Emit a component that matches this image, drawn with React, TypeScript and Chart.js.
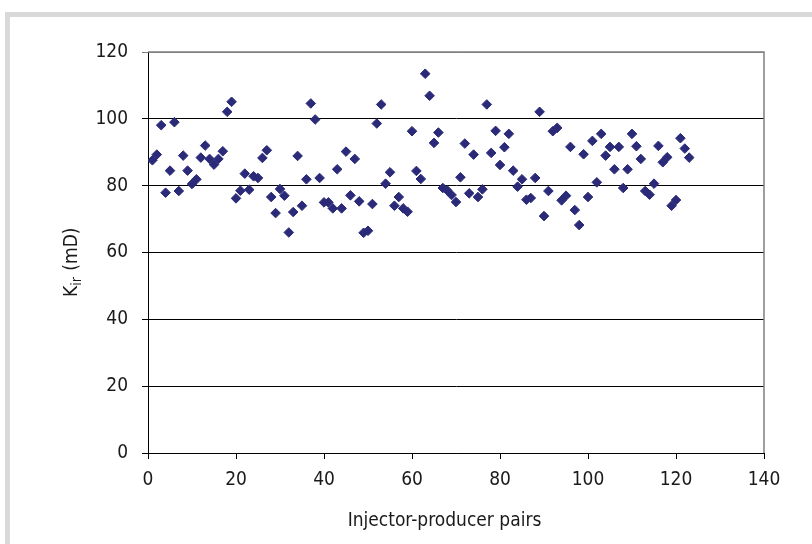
import { useEffect, useRef } from 'react';
import { Chart, registerables } from 'chart.js';

Chart.register(...registerables);

const pairIndex = [
  1, 2, 3, 4, 5, 6, 7, 8, 9, 10, 11, 12, 13, 14, 15, 16, 17, 18, 19, 20,
  21, 22, 23, 24, 25, 26, 27, 28, 29, 30, 31, 32, 33, 34, 35, 36, 37, 38, 39, 40,
  41, 42, 43, 44, 45, 46, 47, 48, 49, 50, 51, 52, 53, 54, 55, 56, 57, 58, 59, 60,
  61, 62, 63, 64, 65, 66, 67, 68, 69, 70, 71, 72, 73, 74, 75, 76, 77, 78, 79, 80,
  81, 82, 83, 84, 85, 86, 87, 88, 89, 90, 91, 92, 93, 94, 95, 96, 97, 98, 99, 100,
  101, 102, 103, 104, 105, 106, 107, 108, 109, 110, 111, 112, 113, 114, 115, 116, 117, 118, 119, 120,
  121, 122, 123,
];

const kirValues = [
  87.6, 89.3, 98.1, 77.9, 84.5, 99.0, 78.4, 89.0, 84.5, 80.5,
  81.9, 88.4, 92.0, 88.0, 86.3, 88.0, 90.3, 102.1, 105.1, 76.2,
  78.5, 83.6, 78.8, 82.8, 82.3, 88.3, 90.6, 76.6, 71.8, 79.0,
  77.0, 66.0, 72.1, 88.9, 74.0, 81.9, 104.6, 99.8, 82.3, 75.0,
  75.0, 73.2, 84.9, 73.2, 90.2, 77.1, 88.0, 75.3, 65.9, 66.5,
  74.5, 98.6, 104.3, 80.6, 84.0, 74.0, 76.6, 73.2, 72.2, 96.3,
  84.4, 82.0, 113.5, 106.9, 92.8, 95.9, 79.3, 78.6, 77.2, 75.1,
  82.5, 92.6, 77.7, 89.3, 76.6, 78.9, 104.3, 89.8, 96.4, 86.2,
  91.5, 95.5, 84.5, 79.7, 81.9, 75.8, 76.3, 82.3, 102.1, 70.9,
  78.4, 96.3, 97.3, 75.6, 77.0, 91.6, 72.7, 68.2, 89.4, 76.6,
  93.4, 81.0, 95.5, 89.0, 91.6, 84.9, 91.6, 79.3, 84.9, 95.5,
  91.8, 88.0, 78.4, 77.3, 80.6, 91.9, 87.0, 88.5, 74.0, 75.7,
  94.2, 91.1, 88.4,
];

const xTickValues = [0, 20, 40, 60, 80, 100, 120, 140];
const yTickValues = [0, 20, 40, 60, 80, 100, 120];

const xTitle = 'Injector-producer pairs';
const yTitleMain = 'K';
const yTitleSub = 'ir';
const yTitleRest = ' (mD)';

const FONT_FAMILY = "'Liberation Sans Narrow', 'DejaVu Sans Condensed', 'Arial Narrow', sans-serif";
const FONT_SIZE = 19;
const MARKER = '#2a2a78';

export default function App() {
  const canvasRef = useRef<HTMLCanvasElement | null>(null);

  useEffect(() => {
    const canvas = canvasRef.current;
    if (!canvas) return;

    const titlePlugin = {
      id: 'customTitles',
      afterDraw(chart: any) {
        const ctx = chart.ctx as CanvasRenderingContext2D;
        const area = chart.chartArea;
        ctx.save();
        ctx.strokeStyle = '#808080';
        ctx.lineWidth = 1.5;
        ctx.beginPath();
        ctx.moveTo(area.left, area.top);
        ctx.lineTo(area.right, area.top);
        ctx.lineTo(area.right, area.bottom);
        ctx.stroke();

        ctx.fillStyle = '#1a1a1a';
        ctx.font = `${FONT_SIZE}px ${FONT_FAMILY}`;
        ctx.textAlign = 'center';
        ctx.textBaseline = 'alphabetic';
        ctx.fillText(xTitle, 444.5, 526);

        ctx.translate(77, 297);
        ctx.rotate(-Math.PI / 2);
        ctx.textAlign = 'left';
        ctx.font = `${FONT_SIZE}px ${FONT_FAMILY}`;
        const wK = ctx.measureText(yTitleMain).width;
        ctx.fillText(yTitleMain, 0, 0);
        ctx.font = `14px ${FONT_FAMILY}`;
        const wSub = ctx.measureText(yTitleSub).width;
        ctx.fillText(yTitleSub, wK, 4);
        ctx.font = `${FONT_SIZE}px ${FONT_FAMILY}`;
        ctx.fillText(yTitleRest, wK + wSub + 1, 0);
        ctx.restore();
      },
    };

    const chart = new Chart(canvas, {
      type: 'scatter',
      data: {
        datasets: [
          {
            data: pairIndex.map((x, i) => ({ x, y: kirValues[i] })),
            pointStyle: 'rectRot',
            pointRadius: 4.8,
            pointHoverRadius: 4.8,
            backgroundColor: MARKER,
            borderColor: MARKER,
            borderWidth: 1,
            showLine: false,
          },
        ],
      },
      options: {
        animation: false,
        responsive: false,
        devicePixelRatio: 1,
        layout: { padding: { top: 52, right: 48, left: 0, bottom: 0 } },
        plugins: {
          legend: { display: false },
          tooltip: { enabled: false },
        },
        scales: {
          x: {
            type: 'linear',
            min: 0,
            max: 140,
            afterBuildTicks: (scale: any) => {
              scale.ticks = xTickValues.map((v) => ({ value: v }));
            },
            afterFit: (scale: any) => {
              scale.height = 91;
            },
            grid: {
              drawOnChartArea: false,
              drawTicks: true,
              tickLength: 6,
              color: '#000',
              lineWidth: 1,
            },
            border: { color: '#000', width: 1 },
            ticks: {
              color: '#1a1a1a',
              font: { family: FONT_FAMILY, size: FONT_SIZE },
              padding: 10,
              maxRotation: 0,
              autoSkip: false,
            },
          },
          y: {
            type: 'linear',
            min: 0,
            max: 120,
            afterBuildTicks: (scale: any) => {
              scale.ticks = yTickValues.map((v) => ({ value: v }));
            },
            afterFit: (scale: any) => {
              scale.width = 148;
            },
            grid: {
              drawTicks: true,
              tickLength: 6,
              color: (ctx: any) => (ctx.tick && ctx.tick.value === 120 ? '#808080' : '#000'),
              lineWidth: 1,
            },
            border: { color: '#000', width: 1 },
            ticks: {
              color: '#1a1a1a',
              font: { family: FONT_FAMILY, size: FONT_SIZE },
              padding: 14,
              autoSkip: false,
            },
          },
        },
      },
      plugins: [titlePlugin],
    } as any);

    return () => {
      chart.destroy();
    };
  }, []);

  return (
    <div>
      <div
        style={{
          position: 'fixed',
          left: 5,
          top: 12,
          width: 900,
          height: 700,
          border: '5px solid #d9d9d9',
          boxSizing: 'border-box',
          background: '#ffffff',
        }}
      />
      <canvas
        ref={canvasRef}
        width={812}
        height={544}
        style={{ position: 'fixed', left: 0, top: 0, width: 812, height: 544 }}
      />
    </div>
  );
}
